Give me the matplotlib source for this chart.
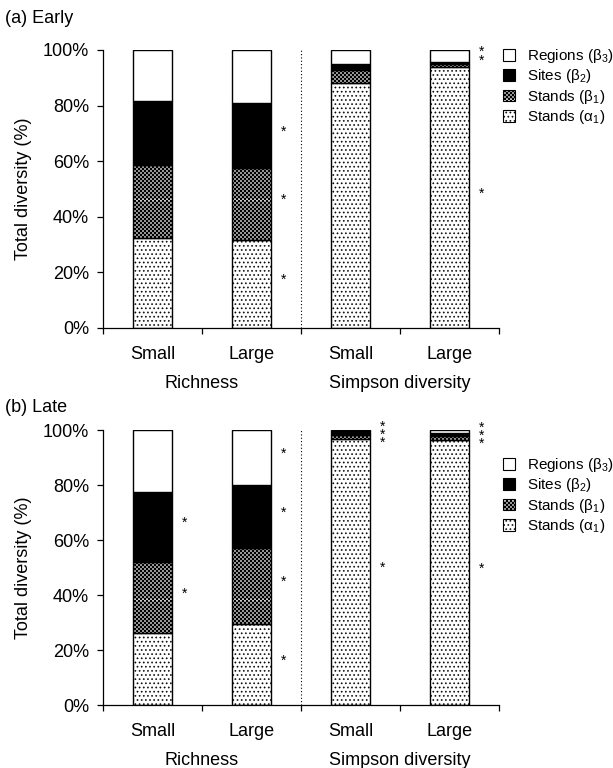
import warnings
warnings.filterwarnings("ignore")
import numpy as np
import matplotlib
matplotlib.use("Agg")
import matplotlib.pyplot as plt
import matplotlib.hatch as mhatch
from matplotlib.path import Path
from matplotlib.patches import Patch
from matplotlib.transforms import blended_transform_factory, ScaledTranslation

plt.rcParams['font.family'] = ['Liberation Sans', 'DejaVu Sans']
plt.rcParams['mathtext.fontset'] = 'custom'
plt.rcParams['mathtext.rm'] = 'Liberation Sans'
plt.rcParams['mathtext.it'] = 'Liberation Sans:italic'
plt.rcParams['hatch.linewidth'] = 0.3


# ---- custom hatches: checkerboard ('c') and sparse dots ('d') ----
class Checker(mhatch.HatchPatternBase):
    def __init__(self, hatch, density):
        self.n = hatch.count('c') * 10
        self.squares = [(i, j) for i in range(self.n) for j in range(self.n) if (i + j) % 2 == 0]
        self.num_vertices = 5 * len(self.squares) if self.n else 0

    def set_vertices_and_codes(self, vertices, codes):
        s = 1.0 / self.n
        k = 0
        for i, j in self.squares:
            x0, y0 = i * s, j * s
            vertices[k:k + 5] = [(x0, y0), (x0 + s, y0), (x0 + s, y0 + s), (x0, y0 + s), (x0, y0)]
            codes[k:k + 5] = [Path.MOVETO, Path.LINETO, Path.LINETO, Path.LINETO, Path.CLOSEPOLY]
            k += 5


class Dots(mhatch.Circles):
    size = 0.16
    filled = True

    def __init__(self, hatch, density):
        self.num_rows = hatch.count('d') * 6
        super().__init__(hatch, density)


mhatch._hatch_types.append(Checker)
mhatch._hatch_types.append(Dots)

# ---- data ----
categories = ['Small', 'Large', 'Small', 'Large']
groups = ['Richness', 'Simpson diversity']
components = ['Stands (α$_1$)', 'Stands (β$_1$)', 'Sites (β$_2$)', 'Regions (β$_3$)']

early_alpha1 = [32.2, 31.8, 88.0, 93.8]
early_beta1 = [26.4, 25.6, 4.8, 1.3]
early_beta2 = [23.1, 23.6, 2.2, 0.4]
early_beta3 = [18.3, 19.0, 5.0, 4.5]

late_alpha1 = [26.2, 29.5, 96.6, 96.5]
late_beta1 = [25.7, 27.5, 1.7, 1.5]
late_beta2 = [25.5, 22.9, 1.4, 1.0]
late_beta3 = [22.6, 20.1, 0.3, 1.0]

# significance stars per category: flags for (alpha1, beta1, beta2, beta3)
early_sig = [[0, 0, 0, 0], [1, 1, 1, 0], [0, 0, 0, 0], [1, 0, 1, 1]]
late_sig = [[0, 1, 1, 0], [1, 1, 1, 1], [1, 1, 1, 1], [1, 1, 1, 1]]

yticks = [0, 20, 40, 60, 80, 100]

# ---- styles ----
face = ['white', 'white', 'black', 'white']
hatches = ['dddd', 'ccccc', None, None]
FS = 13

fig = plt.figure(figsize=(6.13, 7.68), dpi=100)


def panel(rect, title, title_y, comps, sig, legend_anchor):
    ax = fig.add_axes(rect)
    x = np.arange(len(categories))
    bottom = np.zeros(len(categories))
    for vals, fc, h in zip(comps, face, hatches):
        ax.bar(x, vals, 0.4, bottom=bottom, facecolor=fc, edgecolor='black',
               linewidth=1.0, hatch=h)
        bottom = bottom + np.array(vals)
    # stars
    star_tr = ax.transData + ScaledTranslation(0, 4 / 100, fig.dpi_scale_trans)
    for i in range(len(categories)):
        cum = np.concatenate([[0], np.cumsum([c[i] for c in comps])])
        mids = (cum[:-1] + cum[1:]) / 2
        prev = None
        for k in range(len(comps) - 1, -1, -1):
            if sig[i][k]:
                y = mids[k]
                if prev is not None:
                    y = min(y, prev - 3.0)
                ax.text(i + 0.32, y, '*', ha='center', va='center', fontsize=10,
                        transform=star_tr)
                prev = y
    ax.set_xlim(-0.5, len(categories) - 0.5)
    ax.set_ylim(0, 100)
    for s in ['top', 'right']:
        ax.spines[s].set_visible(False)
    ax.spines['left'].set_linewidth(0.9)
    ax.spines['bottom'].set_linewidth(0.9)
    ax.set_yticks(yticks)
    ax.set_yticklabels([f'{t}%' for t in yticks], fontsize=FS)
    ax.set_xticks(np.arange(len(categories) + 1) - 0.5)
    ax.set_xticklabels([])
    ax.set_xticks(x, minor=True)
    ax.set_xticklabels(categories, minor=True, fontsize=FS)
    ax.tick_params(axis='x', which='minor', length=0, pad=13)
    ax.tick_params(axis='both', which='major', length=4, width=0.9, direction='out')
    ax.tick_params(axis='y', pad=6)
    ax.axvline(len(categories) / 2 - 0.5, color='black', linestyle=(0, (1, 2)), linewidth=0.8)
    tr = blended_transform_factory(ax.transData, ax.transAxes)
    for gi, g in enumerate(groups):
        ax.text(gi * 2 + 0.5, -0.2, g, transform=tr, ha='center', va='center', fontsize=FS)
    ax.set_ylabel('Total diversity (%)', fontsize=FS, labelpad=8)
    fig.text(0.008, title_y, title, fontsize=FS, ha='left', va='center')
    handles = [Patch(facecolor=fc, edgecolor='black', hatch=h, linewidth=0.8)
               for fc, h in zip(face, hatches)][::-1]
    ax.legend(handles, components[::-1], loc='upper left', bbox_to_anchor=legend_anchor,
              frameon=False, fontsize=11, handlelength=0.8, handleheight=0.8,
              handletextpad=0.75, labelspacing=0.15, borderaxespad=0, borderpad=0)
    return ax


early = [early_alpha1, early_beta1, early_beta2, early_beta3]
late = [late_alpha1, late_beta1, late_beta2, late_beta3]
panel([0.168, 0.573, 0.646, 0.362], '(a) Early', 0.976, early, early_sig, (1.01, 1.01))
panel([0.168, 0.082, 0.646, 0.358], '(b) Late', 0.469, late, late_sig, (1.01, 0.905))

fig.savefig('out.png', dpi=100)
